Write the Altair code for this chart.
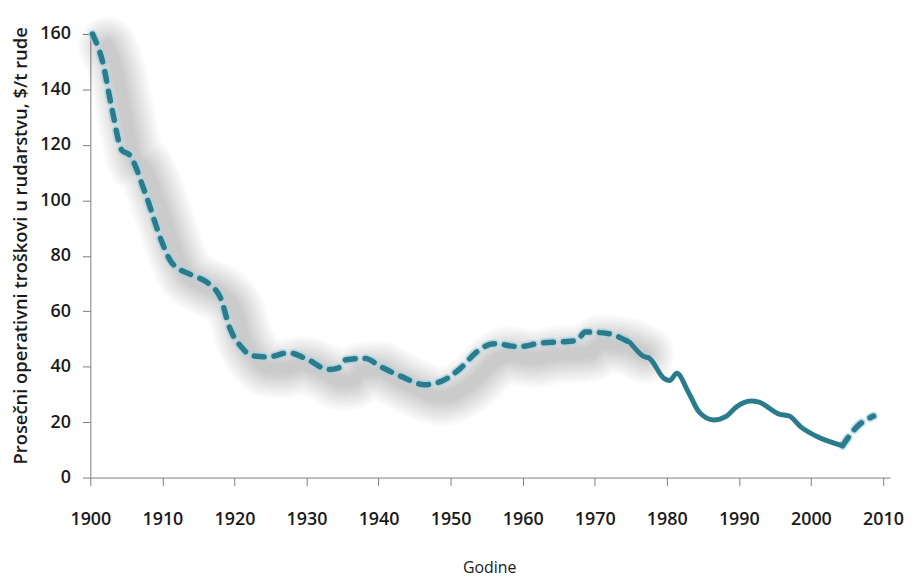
import altair as alt
import pandas as pd

# first dashed stretch (with shadow)
years_dashed1 = [1900.3, 1901.7, 1903, 1904.4, 1905.4, 1907.7, 1910, 1911.3, 1914.1, 1916.4,
                 1918.2, 1919.2, 1921, 1922.4, 1924.7, 1927.5, 1930.2, 1933, 1934.4, 1935.5,
                 1938.1, 1940.3, 1943.1, 1946.4, 1948.5, 1951.4, 1953.7, 1956, 1959.5, 1962.4,
                 1965.7, 1967.5, 1968.7, 1971.7, 1974.9]
cost_dashed1 = [160, 150, 133, 118, 116.5, 102, 84.5, 77.5, 73, 70,
                64, 55, 47, 44, 43.5, 45, 42.5, 39, 39.5, 42.5,
                43, 40, 36.5, 33.5, 34.5, 39.5, 45.5, 48.3, 47.2, 48.5,
                49, 49.5, 52.5, 52, 48.7]
# solid stretch
years_solid = [1974.9, 1976.8, 1977.6, 1979.6, 1980.4, 1981.4, 1983, 1984.5, 1986.5, 1988.3,
               1989.6, 1991.7, 1992.8, 1995.6, 1997, 1998.6, 2000.7, 2004.4]
cost_solid = [48.7, 43.7, 43, 35.8, 35, 37.6, 30.8, 23.6, 20.8, 22.2,
              25.4, 27.6, 27.2, 22.9, 22.2, 18.3, 15, 11.5]
# last dashed stretch
years_dashed2 = [2004.4, 2006.5, 2008.7]
cost_dashed2 = [11.5, 18.6, 22.2]

x_ticks = [1900, 1910, 1920, 1930, 1940, 1950, 1960, 1970, 1980, 1990, 2000, 2010]
y_ticks = [0, 20, 40, 60, 80, 100, 120, 140, 160]

y_title = "Prosečni operativni troškovi u rudarstvu, $/t rude"
x_title = "Godine"

d1 = pd.DataFrame({"godina": years_dashed1, "trosak": cost_dashed1, "deo": "a"})
ds = pd.DataFrame({"godina": years_solid, "trosak": cost_solid, "deo": "b"})
d2 = pd.DataFrame({"godina": years_dashed2, "trosak": cost_dashed2, "deo": "c"})
dashed = pd.concat([d1, d2], ignore_index=True)

LINE = "#2a7b8c"
FONT = "Open Sans"

xs = alt.Scale(domain=[1900, 2011], nice=False, zero=False)
ys = alt.Scale(domain=[0, 160], nice=False)

x_axis = alt.Axis(values=x_ticks, format="d", grid=False, domainColor="#7f7f7f",
                  tickColor="#7f7f7f", tickSize=8, labelFont=FONT, labelFontSize=18,
                  labelFontWeight=600, labelColor="#1a1a1a", labelPadding=25,
                  labelFlush=False, labelOverlap=False,
                  title=x_title, titleFont=FONT, titleFontSize=16, titleFontWeight=500,
                  titleColor="#1a1a1a", titleX=402, titleY=96, titleAnchor="start",
                  titleAlign="center", titleBaseline="alphabetic")
y_axis = alt.Axis(values=y_ticks, grid=False, domainColor="#7f7f7f", tickColor="#7f7f7f",
                  tickSize=8, labelFont=FONT, labelFontSize=18, labelFontWeight=600,
                  labelColor="#1a1a1a", labelPadding=12, labelFlush=False,
                  title=y_title, titleFont=FONT, titleFontSize=18.5, titleFontWeight=600,
                  titleColor="#1a1a1a", titleAngle=270, titleX=-70, titleY=213,
                  titleAnchor="start", titleAlign="center", titleBaseline="middle",
                  titleLimit=1000)

enc_x = alt.X("godina:Q", scale=xs, axis=x_axis)
enc_y = alt.Y("trosak:Q", scale=ys, axis=y_axis)

shadow_layers = []
for w in [60, 56, 52, 48, 44, 40, 36, 32, 28, 24, 20, 16, 12]:
    shadow_layers.append(
        alt.Chart(d1).mark_line(color="#000000", strokeWidth=w, opacity=0.015,
                                strokeCap="round", strokeJoin="round",
                                xOffset=15, yOffset=12, interpolate="monotone")
        .encode(x=alt.X("godina:Q", scale=xs), y=alt.Y("trosak:Q", scale=ys))
    )

halo = alt.Chart(dashed).mark_line(color="#a8d3df", strokeWidth=9, opacity=0.7,
                                   strokeDash=[10, 10], strokeCap="round",
                                   strokeJoin="round", interpolate="monotone").encode(
    x=alt.X("godina:Q", scale=xs), y=alt.Y("trosak:Q", scale=ys), detail="deo:N")

dash_line = alt.Chart(dashed).mark_line(color=LINE, strokeWidth=5.5, strokeDash=[10, 10],
                                        strokeCap="round", strokeJoin="round",
                                        interpolate="monotone").encode(
    x=enc_x, y=enc_y, detail="deo:N")

solid_line = alt.Chart(ds).mark_line(color=LINE, strokeWidth=5, strokeCap="round",
                                     strokeJoin="round", interpolate="monotone").encode(
    x=alt.X("godina:Q", scale=xs), y=alt.Y("trosak:Q", scale=ys))

chart = alt.layer(*shadow_layers, halo, solid_line, dash_line).properties(
    width=806, height=447,
    autosize=alt.AutoSizeParams(type="none"),
    padding={"left": 83, "top": 24, "right": 18, "bottom": 99},
    background="white",
).configure_view(stroke=None)

chart.save("out.html", embed_options={"renderer": "svg", "actions": False})
